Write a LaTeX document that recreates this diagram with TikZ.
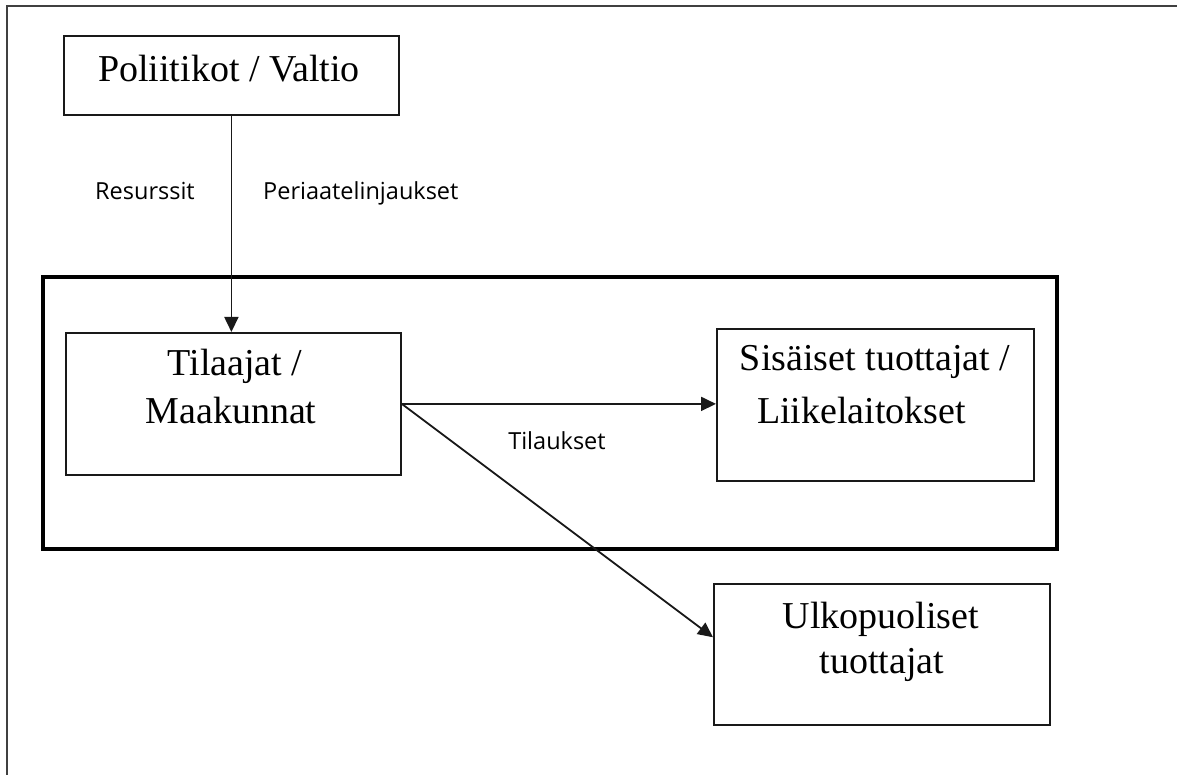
\documentclass[tikz,border=0pt]{standalone}
\usepackage{fontspec}
\setmainfont{Liberation Serif}
\newfontfamily\labfont{Open Sans}
\usetikzlibrary{arrows.meta,calc}
\begin{document}
\begin{tikzpicture}[x=1pt,y=-1pt,
  box/.style={draw=black!90, line width=1.8pt, inner sep=0pt, anchor=north west},
  boxtext/.style={font=\fontsize{38}{44}\selectfont, inner sep=0pt},
  lab/.style={font=\labfont\fontsize{23.5}{28}\selectfont, inner sep=0pt},
  arr/.style={draw=black!90, line width=1.8pt, -{Triangle[length=15pt,width=14pt]}}]
\useasboundingbox (0,0) rectangle (1177,775);
% outer frame (open at right and bottom)
\draw[draw=black!75, line width=2.4pt] (7,780) -- (7,6) -- (1182,6);
% inner thick frame
\node[box, line width=3.8pt, draw=black, minimum width=1014pt, minimum height=272pt] (frame) at (41,275) {};
% boxes
\node[box, minimum width=335pt, minimum height=79pt] (pol) at (63,35) {};
\node[box, minimum width=335pt, minimum height=142pt] (til) at (65,332) {};
\node[box, minimum width=317pt, minimum height=152pt] (sis) at (716,328) {};
\node[box, minimum width=336pt, minimum height=141pt] (ulk) at (713,583) {};
% box texts
\node[boxtext, anchor=base] (poltext) at (229,82) {Poliitikot / Valtio};
\node[boxtext, anchor=base] (tiltext1) at (235,375) {Tilaajat /};
\node[boxtext, anchor=base] (tiltext2) at (231,423) {Maakunnat};
\node[boxtext, anchor=base] (sistext1) at (875,370) {Sisäiset tuottajat /};
\node[boxtext, anchor=base west] (sistext2) at (757,423) {Liikelaitokset};
\node[boxtext, anchor=base] (ulktext1) at (881,628) {Ulkopuoliset};
\node[boxtext, anchor=base] (ulktext2) at (882,673) {tuottajat};
% labels
\node[lab, anchor=base] (res) at (145,200) {Resurssit};
\node[lab, anchor=base west] (per) at (263,200) {Periaatelinjaukset};
\node[lab, anchor=base] (tilauk) at (557,449) {Tilaukset};
% connectors
\draw[arr] (pol.south) -- (pol.south |- til.north);
\draw[arr] (til.east) -- (til.east -| sis.west);
\draw[arr] (til.east) -- ($(ulk.north west)!0.38!(ulk.south west)$);
\end{tikzpicture}
\end{document}
